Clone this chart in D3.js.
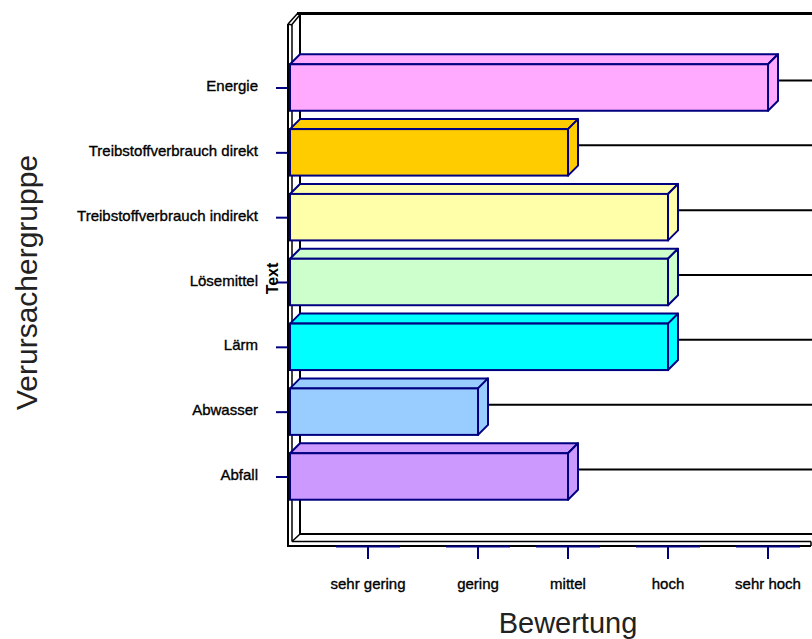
<!DOCTYPE html>
<html>
<head>
<meta charset="utf-8">
<script src="https://cdn.jsdelivr.net/npm/d3@7"></script>
<style>
  html, body { margin: 0; padding: 0; background: #fff; }
  svg { display: block; }
  text { font-family: "Liberation Sans", Arial, sans-serif; }
</style>
</head>
<body>
<svg id="chart" width="812" height="639"></svg>
<script>
// ---- data ----
const categories = ["Energie", "Treibstoffverbrauch direkt", "Treibstoffverbrauch indirekt",
                    "Lösemittel", "Lärm", "Abwasser", "Abfall"];
const ratings = [5, 3, 4, 4, 4, 2.1, 3];
const barColors = ["#FFAAFF", "#FFCC00", "#FFFFAA", "#CCFFCC", "#00FFFF", "#99CCFF", "#CC99FF"];
const tickValues = [1, 2.1, 3, 4, 5];
const tickLabels = ["sehr gering", "gering", "mittel", "hoch", "sehr hoch"];
const xTitle = "Bewertung";
const yTitle = "Verursachergruppe";
const extraLabel = "Text";

// ---- layout ----
const svg = d3.select("#chart");
const W = 812;
const frontL = 288, innerL = 292, backL = 300;
const backTop = 13.5, frontTop = 24;
const floorBack = 534, floorInner = 541.5, floorFront = 546;
const rightEnd = 811;
const depth = 10;
const navy = "#000080";

const x = d3.scaleLinear().domain([0.22, 5.44]).range([290, 812]);
const y = d3.scaleBand().domain(categories).range([55.1, 508.9])
  .paddingInner(0.283).paddingOuter(0.1415);

const line = (x1, y1, x2, y2, stroke, w) =>
  svg.append("line").attr("x1", x1).attr("y1", y1).attr("x2", x2).attr("y2", y2)
     .attr("stroke", stroke).attr("stroke-width", w);

// ---- frame (walls & floor) ----
line(297, backTop, W + 2, backTop, "#000", 3);
line(backL, backTop, backL, floorBack, "#000", 2);
line(frontL, frontTop, frontL, floorFront + 1, "#000", 2);
line(innerL, frontTop + 1, innerL, floorInner, "#000", 1.5);
line(frontL, frontTop, 297.5, backTop, "#000", 1.5);
line(innerL - 0.5, frontTop + 1, 301, backTop, "#000", 1.5);
line(frontL, frontTop, innerL, frontTop + 1, "#000", 1.5);
line(backL, floorBack, W + 2, floorBack, "#000", 2);
line(innerL, floorInner, rightEnd, floorInner, "#000", 1.5);
line(frontL, floorFront, rightEnd, floorFront, "#000", 2);
line(rightEnd, floorInner, rightEnd, floorFront, "#000", 1.5);
line(innerL, floorInner, backL, floorBack, "#000", 1.5);

// ---- gridlines on back ----
svg.append("g").selectAll("line").data(categories).join("line")
  .attr("x1", backL).attr("x2", W + 2)
  .attr("y1", d => y(d) + y.bandwidth() / 2 - 7)
  .attr("y2", d => y(d) + y.bandwidth() / 2 - 7)
  .attr("stroke", "#000").attr("stroke-width", 2);

// ---- 3D bars ----
const bars = svg.append("g").selectAll("g").data(categories).join("g");
bars.each(function (d, i) {
  const g = d3.select(this);
  const x0 = x.range()[0], x1 = x(ratings[i]);
  const y0 = y(d), y1 = y(d) + y.bandwidth();
  const col = barColors[i];
  g.append("polygon")
    .attr("points", [[x0, y0], [x0 + depth, y0 - depth], [x1 + depth, y0 - depth], [x1, y0]].join(" "))
    .attr("fill", col).attr("stroke", navy).attr("stroke-width", 2).attr("stroke-linejoin", "round");
  g.append("polygon")
    .attr("points", [[x1, y0], [x1 + depth, y0 - depth], [x1 + depth, y1 - depth], [x1, y1]].join(" "))
    .attr("fill", col).attr("stroke", navy).attr("stroke-width", 2).attr("stroke-linejoin", "round");
  g.append("rect")
    .attr("x", x0).attr("y", y0).attr("width", x1 - x0).attr("height", y1 - y0)
    .attr("fill", col).attr("stroke", navy).attr("stroke-width", 2);
});

// ---- y axis ticks & labels ----
const yAxis = svg.append("g");
yAxis.selectAll("line").data(categories).join("line")
  .attr("x1", 276).attr("x2", frontL)
  .attr("y1", d => y(d) + y.bandwidth() / 2 + 0.5)
  .attr("y2", d => y(d) + y.bandwidth() / 2 + 0.5)
  .attr("stroke", navy).attr("stroke-width", 2);
yAxis.selectAll("text").data(categories).join("text")
  .attr("x", 258).attr("y", d => y(d) + y.bandwidth() / 2 + 3.5)
  .attr("text-anchor", "end").attr("font-size", 15).attr("fill", "#000")
  .attr("stroke", "#000").attr("stroke-width", 0.35)
  .text(d => d);

// ---- x axis (segmented navy line, ticks, labels) ----
const xAxis = svg.append("g");
xAxis.selectAll("line.seg").data(tickValues).join("line").attr("class", "seg")
  .attr("x1", d => x(d) - 32).attr("x2", d => x(d) + 32)
  .attr("y1", floorFront + 0.5).attr("y2", floorFront + 0.5)
  .attr("stroke", navy).attr("stroke-width", 2);
xAxis.selectAll("line.tick").data(tickValues).join("line").attr("class", "tick")
  .attr("x1", d => x(d)).attr("x2", d => x(d))
  .attr("y1", floorFront).attr("y2", 559)
  .attr("stroke", navy).attr("stroke-width", 2);
xAxis.selectAll("text").data(tickValues).join("text")
  .attr("x", d => x(d)).attr("y", 589)
  .attr("text-anchor", "middle").attr("font-size", 15).attr("fill", "#000")
  .attr("stroke", "#000").attr("stroke-width", 0.35)
  .text((d, i) => tickLabels[i]);

// ---- titles ----
svg.append("text").attr("x", 568).attr("y", 633)
  .attr("text-anchor", "middle").attr("font-size", 29).attr("fill", "#222")
  .text(xTitle);
svg.append("text").attr("transform", "translate(37,282.5) rotate(-90)")
  .attr("text-anchor", "middle").attr("font-size", 30).attr("fill", "#222")
  .text(yTitle);
svg.append("text").attr("transform", "translate(278,278.5) rotate(-90)")
  .attr("text-anchor", "middle").attr("font-size", 16).attr("font-weight", "bold").attr("fill", "#000")
  .text(extraLabel);
</script>
</body>
</html>
